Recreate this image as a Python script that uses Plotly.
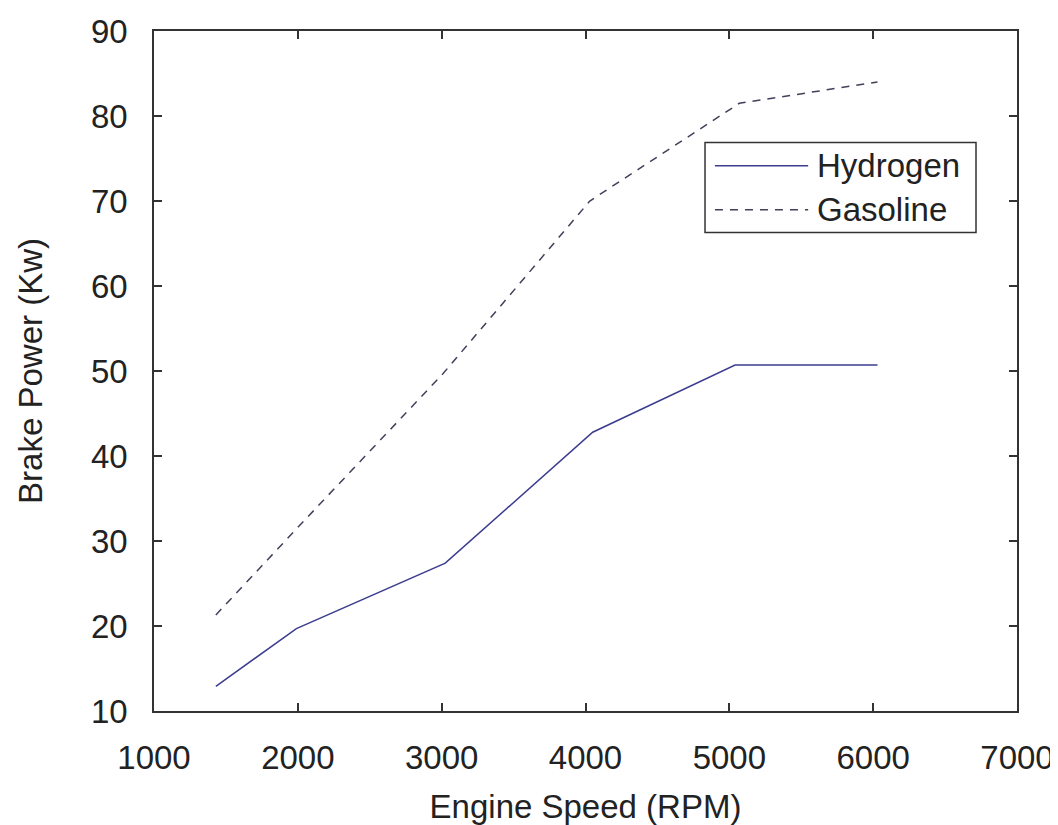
import plotly.graph_objects as go

# Data
rpm_hydrogen = [1430, 1990, 3025, 4050, 5040, 6030]
power_hydrogen = [12.9, 19.7, 27.4, 42.8, 50.7, 50.7]
rpm_gasoline = [1430, 2000, 3010, 4030, 5070, 6030]
power_gasoline = [21.3, 31.6, 49.7, 70.0, 81.5, 84.0]

x_ticks = [1000, 2000, 3000, 4000, 5000, 6000, 7000]
y_ticks = [10, 20, 30, 40, 50, 60, 70, 80, 90]

series_names = ["Hydrogen", "Gasoline"]

FONT = "Liberation Sans, Arial, sans-serif"
TXT = "#222222"
AX = "#333333"
C_H = "#3d3d8f"
C_G = "#40405a"
DASH = "8px,7px"
FS = 33

fig = go.Figure()
fig.add_trace(go.Scatter(x=rpm_hydrogen, y=power_hydrogen, mode="lines",
                         name=series_names[0], line=dict(color=C_H, width=1.5)))
fig.add_trace(go.Scatter(x=rpm_gasoline, y=power_gasoline, mode="lines",
                         name=series_names[1], line=dict(color=C_G, width=1.5, dash=DASH)))

axis_common = dict(showgrid=False, zeroline=False, showline=True, linecolor=AX, linewidth=1.5,
                   mirror="allticks", ticks="inside", ticklen=8, tickwidth=1.5, tickcolor=AX,
                   automargin=False,
                   tickfont=dict(family=FONT, size=FS, color=TXT))

fig.update_xaxes(range=[1000, 7000], tickvals=x_ticks, ticktext=[str(v) for v in x_ticks],
                 ticklabelstandoff=17,
                 title=dict(text="Engine Speed (RPM)", font=dict(family=FONT, size=FS, color=TXT), standoff=22),
                 **axis_common)
fig.update_yaxes(range=[10, 90], tickvals=y_ticks, ticktext=[str(v) for v in y_ticks],
                 ticklabelstandoff=18,
                 title=dict(text="Brake Power (Kw)", font=dict(family=FONT, size=FS, color=TXT), standoff=38),
                 **axis_common)

# Manual legend (matching the long line samples of the reference)
lx0, lx1, ly0, ly1 = 0.6385, 0.9525, 0.7035, 0.8359
fig.add_shape(type="rect", xref="paper", yref="paper", x0=lx0, x1=lx1, y0=ly0, y1=ly1,
              line=dict(color=AX, width=1.5), fillcolor="white", layer="above")
rows = [(0.8020, C_H, "solid"), (0.7373, C_G, DASH)]
for name, (yy, col, dsh) in zip(series_names, rows):
    fig.add_shape(type="line", xref="paper", yref="paper", x0=0.650, x1=0.758, y0=yy, y1=yy,
                  line=dict(color=col, width=1.5, dash=dsh), layer="above")
    fig.add_annotation(xref="paper", yref="paper", x=0.766, y=yy, text=name, showarrow=False,
                       xanchor="left", yanchor="middle",
                       font=dict(family=FONT, size=FS, color=TXT))

# The page body has an 8px margin, so the figure is 8px smaller and margins shifted
fig.update_layout(width=1050, height=817, showlegend=False,
                  plot_bgcolor="white", paper_bgcolor="white",
                  margin=dict(l=146, r=41, t=23, b=114, pad=0))

fig.write_html("out.html")
